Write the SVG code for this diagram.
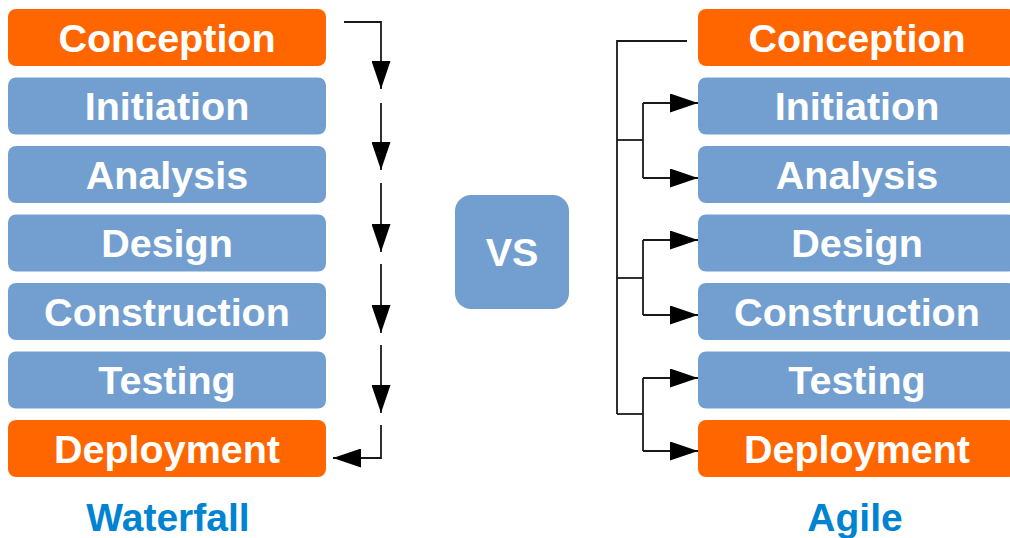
<svg xmlns="http://www.w3.org/2000/svg" width="1010" height="538" viewBox="0 0 1010 538">
<defs>
<style>
.box rect{stroke:none}
.o rect{fill:#ff6600}
.b rect{fill:#729fcf}
.box text{font-family:"Liberation Sans",Arial,sans-serif;font-weight:bold;font-size:39.5px;fill:#ffffff;text-anchor:middle}
.lbl{font-family:"Liberation Sans",Arial,sans-serif;font-weight:bold;font-size:39px;fill:#0084d1;text-anchor:middle}
.c{fill:none;stroke:#1a1a1a;stroke-width:1.8}
</style>
<marker id="ah" viewBox="0 0 28 19" refX="28" refY="9.5" markerWidth="28" markerHeight="19" markerUnits="userSpaceOnUse" orient="auto">
<path d="M0,0 L28,9.5 L0,19 Z" fill="#000"/>
</marker>
</defs>
<rect width="1010" height="538" fill="#ffffff"/>
<g id="w-conception" class="box o"><rect x="8" y="9" width="318" height="57" rx="8"/><text x="167" y="51.5">Conception</text></g>
<g id="w-initiation" class="box b"><rect x="8" y="77.5" width="318" height="57" rx="8"/><text x="167" y="120">Initiation</text></g>
<g id="w-analysis" class="box b"><rect x="8" y="146" width="318" height="57" rx="8"/><text x="167" y="188.5">Analysis</text></g>
<g id="w-design" class="box b"><rect x="8" y="214.5" width="318" height="57" rx="8"/><text x="167" y="257">Design</text></g>
<g id="w-construction" class="box b"><rect x="8" y="283" width="318" height="57" rx="8"/><text x="167" y="325.5">Construction</text></g>
<g id="w-testing" class="box b"><rect x="8" y="351.5" width="318" height="57" rx="8"/><text x="167" y="394">Testing</text></g>
<g id="w-deployment" class="box o"><rect x="8" y="420" width="318" height="57" rx="8"/><text x="167" y="462.5">Deployment</text></g>
<g id="vs" class="box b"><rect x="455" y="195" width="114" height="114" rx="16"/><text x="512" y="265.5">VS</text></g>
<g id="a-conception" class="box o"><rect x="698" y="9" width="318" height="57" rx="8"/><text x="857" y="51.5">Conception</text></g>
<g id="a-initiation" class="box b"><rect x="698" y="77.5" width="318" height="57" rx="8"/><text x="857" y="120">Initiation</text></g>
<g id="a-analysis" class="box b"><rect x="698" y="146" width="318" height="57" rx="8"/><text x="857" y="188.5">Analysis</text></g>
<g id="a-design" class="box b"><rect x="698" y="214.5" width="318" height="57" rx="8"/><text x="857" y="257">Design</text></g>
<g id="a-construction" class="box b"><rect x="698" y="283" width="318" height="57" rx="8"/><text x="857" y="325.5">Construction</text></g>
<g id="a-testing" class="box b"><rect x="698" y="351.5" width="318" height="57" rx="8"/><text x="857" y="394">Testing</text></g>
<g id="a-deployment" class="box o"><rect x="698" y="420" width="318" height="57" rx="8"/><text x="857" y="462.5">Deployment</text></g>
<text id="waterfall" class="lbl" x="168" y="531">Waterfall</text>
<text id="agile" class="lbl" x="855" y="531">Agile</text>
<g id="connectors">
<path class="c" d="M344,22 H381 V89" marker-end="url(#ah)"/>
<path class="c" d="M381,103 V170" marker-end="url(#ah)"/>
<path class="c" d="M381,183 V252" marker-end="url(#ah)"/>
<path class="c" d="M381,264 V333" marker-end="url(#ah)"/>
<path class="c" d="M381,345 V413" marker-end="url(#ah)"/>
<path class="c" d="M381,425 V458 H333" marker-end="url(#ah)"/>
<path class="c" d="M687,41 H617 V414"/>
<path class="c" d="M617,140 H643"/>
<path class="c" d="M617,278 H643"/>
<path class="c" d="M617,414 H643"/>
<path class="c" d="M643,103 V178"/>
<path class="c" d="M643,103 H698" marker-end="url(#ah)"/>
<path class="c" d="M643,178 H698" marker-end="url(#ah)"/>
<path class="c" d="M643,240 V315"/>
<path class="c" d="M643,240 H698" marker-end="url(#ah)"/>
<path class="c" d="M643,315 H698" marker-end="url(#ah)"/>
<path class="c" d="M643,378 V451"/>
<path class="c" d="M643,378 H698" marker-end="url(#ah)"/>
<path class="c" d="M643,451 H698" marker-end="url(#ah)"/>
</g>
</svg>
